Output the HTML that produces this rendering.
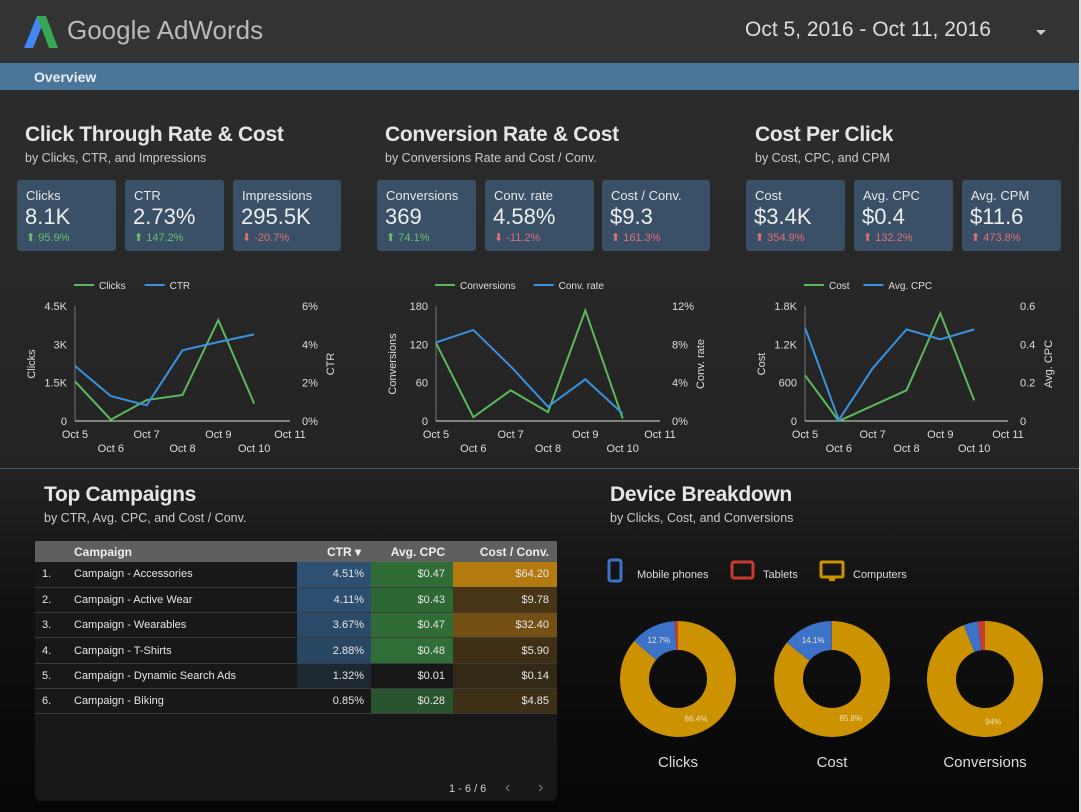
<!DOCTYPE html>
<html><head><meta charset="utf-8">
<style>
*{margin:0;padding:0;box-sizing:border-box}
body{width:1081px;height:812px;overflow:hidden;font-family:"Liberation Sans",sans-serif;color:#ddd;position:relative;
background:linear-gradient(#2f2f2f 0px,#2c2c2c 90px,#232323 470px,#111 600px,#060606 812px)}
.abs{position:absolute}
.hdr{left:0;top:0;width:1081px;height:63px;background:#333}
.nav{left:0;top:63px;width:1079px;height:27px;background:#4a7699}
.sec-title{font-size:21px;font-weight:bold;color:#e6e6e6;letter-spacing:-0.3px}
.sub{font-size:12.5px;color:#ccc}
.card{background:#3a5067;border-radius:3px;height:71px;top:180px}
.card .l{position:absolute;left:9px;top:8px;font-size:13px;color:#e6e6e6}
.card .v{position:absolute;left:8px;top:24px;font-size:22px;color:#eee}
.card .d{position:absolute;left:9px;top:51px;font-size:11px}
.up{color:#6cc070}.dn{color:#e0707a}
svg text{font-family:"Liberation Sans",sans-serif}
table{border-collapse:collapse;font-size:11px}
</style></head><body>
<div class="abs hdr"></div>
<svg class="abs" style="left:24px;top:14px" width="36" height="36">
<polygon points="0,34 13,2 22,2 9,34" fill="#4285f4"/><polygon points="13,2 22,2 34,34 25,34" fill="#34a853"/></svg>
<div class="abs" style="left:67px;top:15px;font-size:26px;color:#b9b9b9">Google AdWords</div>
<div class="abs" style="left:745px;top:18px;font-size:21px;color:#ddd">Oct 5, 2016 - Oct 11, 2016</div>
<div class="abs" style="left:1036px;top:30px;width:0;height:0;border-left:5px solid transparent;border-right:5px solid transparent;border-top:5px solid #ccc"></div>
<div class="abs nav"></div>
<div class="abs" style="left:34px;top:69px;font-size:14px;font-weight:bold;color:#e8eef4">Overview</div>
<div class="abs" style="left:0;top:468px;width:1081px;height:1px;background:#3d5a78"></div>
<div class="abs" style="right:0;top:0;width:2px;height:812px;background:#ddd"></div>

<div class="abs sec-title" style="left:25px;top:123px">Click Through Rate &amp; Cost</div>
<div class="abs sub" style="left:25px;top:151px">by Clicks, CTR, and Impressions</div>
<div class="abs sec-title" style="left:385px;top:123px">Conversion Rate &amp; Cost</div>
<div class="abs sub" style="left:385px;top:151px">by Conversions Rate and Cost / Conv.</div>
<div class="abs sec-title" style="left:755px;top:123px">Cost Per Click</div>
<div class="abs sub" style="left:755px;top:151px">by Cost, CPC, and CPM</div>

<div class="abs card" style="left:17px;width:99px"><div class="l">Clicks</div><div class="v">8.1K</div><div class="d up">⬆ 95.9%</div></div>
<div class="abs card" style="left:125px;width:99px"><div class="l">CTR</div><div class="v">2.73%</div><div class="d up">⬆ 147.2%</div></div>
<div class="abs card" style="left:233px;width:108px"><div class="l">Impressions</div><div class="v">295.5K</div><div class="d dn">⬇ -20.7%</div></div>
<div class="abs card" style="left:377px;width:99px"><div class="l">Conversions</div><div class="v">369</div><div class="d up">⬆ 74.1%</div></div>
<div class="abs card" style="left:485px;width:109px"><div class="l">Conv. rate</div><div class="v">4.58%</div><div class="d dn">⬇ -11.2%</div></div>
<div class="abs card" style="left:602px;width:108px"><div class="l">Cost / Conv.</div><div class="v">$9.3</div><div class="d dn">⬆ 161.3%</div></div>
<div class="abs card" style="left:746px;width:99px"><div class="l">Cost</div><div class="v">$3.4K</div><div class="d dn">⬆ 354.9%</div></div>
<div class="abs card" style="left:854px;width:99px"><div class="l">Avg. CPC</div><div class="v">$0.4</div><div class="d dn">⬆ 132.2%</div></div>
<div class="abs card" style="left:962px;width:99px"><div class="l">Avg. CPM</div><div class="v">$11.6</div><div class="d dn">⬆ 473.8%</div></div>

<svg id="lines" class="abs" style="left:0;top:0" width="1081" height="470"></svg>

<div class="abs sec-title" style="left:44px;top:483px">Top Campaigns</div>
<div class="abs sub" style="left:44px;top:511px">by CTR, Avg. CPC, and Cost / Conv.</div>
<div class="abs" style="left:35px;top:541px;width:522px;height:260px;background:#181818;border-radius:0 0 6px 6px">
<table id="tbl" style="width:522px"></table>
<div class="abs" style="left:414px;top:242px;font-size:11px;color:#ccc">1 - 6 / 6</div>
<div class="abs" style="left:470px;top:238px;font-size:16px;color:#777">‹</div>
<div class="abs" style="left:503px;top:238px;font-size:16px;color:#777">›</div>
</div>

<div class="abs sec-title" style="left:610px;top:483px">Device Breakdown</div>
<div class="abs sub" style="left:610px;top:511px">by Clicks, Cost, and Conversions</div>
<svg id="donuts" class="abs" style="left:0;top:540px" width="1081" height="272"></svg>

<script>
const NS='http://www.w3.org/2000/svg';
function mk(p,tag,at,txt){const e=document.createElementNS(NS,tag);for(const k in at)e.setAttribute(k,at[k]);if(txt!==undefined)e.textContent=txt;p.appendChild(e);return e;}
const days=['Oct 5','Oct 6','Oct 7','Oct 8','Oct 9','Oct 10','Oct 11'];
const clicks=[1550,50,820,1020,3950,680];
const ctr=[2.87,1.3,0.82,3.69,4.12,4.52];
const conversions=[122,6,48,14,173,4];
const convRate=[8.2,9.5,5.7,1.5,4.35,0.77];
const cost=[715,0,240,480,1685,323];
const avgCpc=[0.487,0.005,0.275,0.478,0.426,0.478];
const leftTicks1=['0','1.5K','3K','4.5K'], rightTicks1=['0%','2%','4%','6%'];
const leftTicks2=['0','60','120','180'], rightTicks2=['0%','4%','8%','12%'];
const leftTicks3=['0','600','1.2K','1.8K'], rightTicks3=['0','0.2','0.4','0.6'];
const charts=[
 {x0:75,x1:290,lmax:4500,rmax:6,L:clicks,R:ctr,lt:leftTicks1,rt:rightTicks1,ln:'Clicks',rn:'CTR',id:'ctr'},
 {x0:436,x1:660,lmax:180,rmax:12,L:conversions,R:convRate,lt:leftTicks2,rt:rightTicks2,ln:'Conversions',rn:'Conv. rate',id:'conv'},
 {x0:805,x1:1008,lmax:1800,rmax:0.6,L:cost,R:avgCpc,lt:leftTicks3,rt:rightTicks3,ln:'Cost',rn:'Avg. CPC',id:'cpc'}];
const svg=document.getElementById('lines');
charts.forEach(c=>{
 const y0=421,yt=306;
 const X=i=>c.x0+(c.x1-c.x0)*i/6;
 const YL=v=>y0-(y0-yt)*v/c.lmax, YR=v=>y0-(y0-yt)*v/c.rmax;
 const g=mk(svg,'g',{});
 
 
 mk(g,'line',{x1:c.x0,y1:yt,x2:c.x0,y2:y0,stroke:'#777','stroke-width':1});
 mk(g,'line',{x1:c.x0,y1:y0,x2:c.x1,y2:y0,stroke:'#ddd','stroke-width':1});
 c.lt.forEach((t,i)=>{const e=mk(g,'text',{x:c.x0-8,y:y0-(y0-yt)*i/3+4,'text-anchor':'end','font-size':11,fill:'#ddd'},t);});
 c.rt.forEach((t,i)=>{const e=mk(g,'text',{x:c.x1+12,y:y0-(y0-yt)*i/3+4,'font-size':11,fill:'#ddd'},t);});
 days.forEach((d,i)=>{const e=mk(g,'text',{x:X(i),y:i%2?452:438,'text-anchor':'middle','font-size':11,fill:'#ddd'},d);});
 const lt=mk(g,'text',{transform:`translate(${c.x0-40},364) rotate(-90)`,'text-anchor':'middle','font-size':11,fill:'#ddd'},c.ln);
 
 const rtt=mk(g,'text',{transform:`translate(${c.x1+44},364) rotate(-90)`,'text-anchor':'middle','font-size':11,fill:'#ddd'},c.rn);
 
 const pl=mk(g,'polyline',{points:c.L.map((v,i)=>X(i)+','+YL(v)).join(' '),fill:'none',stroke:'#5cb85c','stroke-width':2});
 
 const pr=mk(g,'polyline',{points:c.R.map((v,i)=>X(i)+','+YR(v)).join(' '),fill:'none',stroke:'#3a92e0','stroke-width':2});
 
 const lg=mk(g,'g',{});
 
 mk(lg,'line',{x1:c.x0-1,y1:285,x2:c.x0+19,y2:285,stroke:'#5cb85c','stroke-width':2});
 mk(lg,'text',{x:c.x0+24,y:289,'font-size':10,fill:'#ddd'},c.ln);
 const off=c.x0+24+c.ln.length*5.6+12;
 mk(lg,'line',{x1:off,y1:285,x2:off+20,y2:285,stroke:'#3a92e0','stroke-width':2});
 mk(lg,'text',{x:off+25,y:289,'font-size':10,fill:'#ddd'},c.rn);
});

const campaigns=['Campaign - Accessories','Campaign - Active Wear','Campaign - Wearables','Campaign - T-Shirts','Campaign - Dynamic Search Ads','Campaign - Biking'];
const ctrVals=[4.51,4.11,3.67,2.88,1.32,0.85];
const cpcVals=[0.47,0.43,0.47,0.48,0.01,0.28];
const costConv=[64.20,9.78,32.40,5.90,0.14,4.85];
const tbl=document.getElementById('tbl');
tbl.innerHTML='<tr style="background:#5f5f5f;height:21px;font-weight:bold;font-size:12px;color:#eee"><td style="width:39px"></td><td style="width:223px">Campaign</td><td style="width:74px;text-align:right;padding-right:10px">CTR ▾</td><td style="width:82px;text-align:right;padding-right:8px">Avg. CPC</td><td style="text-align:right;padding-right:8px">Cost / Conv.</td></tr>';
campaigns.forEach((n,i)=>{
 const a=Math.max(0.05,ctrVals[i]/4.51), b=cpcVals[i]/0.48, c=costConv[i]/64.2;
 const tr=document.createElement('tr');
 
 
 tr.style.cssText='height:25.3px;border-bottom:1px solid #3a3a3a;color:#e6e6e6';
 tr.innerHTML=`<td style="padding-left:7px">${i+1}.</td><td>${n}</td><td style="text-align:right;padding-right:7px;background:rgba(45,80,115,${i<4?0.5+0.5*a:(i==4?0.3:0)})">${ctrVals[i].toFixed(2)}%</td><td style="text-align:right;padding-right:8px;background:rgba(48,110,55,${b<0.1?0:0.3+0.7*b})">$${cpcVals[i].toFixed(2)}</td><td style="text-align:right;padding-right:8px;background:rgba(180,122,16,${0.18+0.82*c})">$${costConv[i].toFixed(2)}</td>`;
 tbl.appendChild(tr);
});

const deviceNames=['Computers','Mobile phones','Tablets'];
const deviceColors=['#cc9200','#3d72c9','#c83c30'];
const clicksShare=[86.4,12.7,0.9];
const costShare=[85.8,14.1,0.1];
const convShare=[94,4,2];
const dsvg=document.getElementById('donuts');
const legX=[607,730,820];
['Mobile phones','Tablets','Computers'].forEach((n,i)=>{
 const g=mk(dsvg,'g',{});
 
 const col=[deviceColors[1],deviceColors[2],deviceColors[0]][i];
 if(i==0)mk(g,'rect',{x:legX[0]+2,y:20,width:12,height:21,rx:2,fill:'none',stroke:col,'stroke-width':3});
 if(i==1)mk(g,'rect',{x:legX[1]+2,y:22,width:21,height:16,rx:2,fill:'none',stroke:col,'stroke-width':3});
 if(i==2){mk(g,'rect',{x:legX[2]+1,y:22,width:22,height:15,rx:1,fill:'none',stroke:col,'stroke-width':3});mk(g,'rect',{x:legX[2]+9,y:37,width:6,height:4,fill:col});}
 mk(g,'text',{x:[637,763,853][i],y:38,'font-size':11,fill:'#ddd'},n);
});
const donuts=[{cx:678,v:clicksShare,t:'Clicks',labels:['86.4%','12.7%','']},{cx:832,v:costShare,t:'Cost',labels:['85.8%','14.1%','']},{cx:985,v:convShare,t:'Conversions',labels:['94%','','']}];
const cy=139,R=58,r=29;
donuts.forEach(d=>{
 const g=mk(dsvg,'g',{});
 
 const tot=d.v.reduce((a,b)=>a+b,0);let a0=0;
 d.v.forEach((v,i)=>{
  const a1=a0+v/tot*Math.PI*2;
  const p=(a,rr)=>[d.cx+rr*Math.sin(a),cy-rr*Math.cos(a)];
  const large=a1-a0>Math.PI?1:0;
  const [x1,y1]=p(a0,R),[x2,y2]=p(a1,R),[x3,y3]=p(a1,r),[x4,y4]=p(a0,r);
  const s=mk(g,'path',{d:`M${x1},${y1}A${R},${R} 0 ${large} 1 ${x2},${y2}L${x3},${y3}A${r},${r} 0 ${large} 0 ${x4},${y4}Z`,fill:deviceColors[i]});
  
  
  if(d.labels[i]){const am=(a0+a1)/2;const [lx,ly]=p(am,(R+r)/2);mk(g,'text',{x:lx,y:ly+3,'text-anchor':'middle','font-size':8,fill:'#f0e0c0'},d.labels[i]);}
  a0=a1;
 });
 const tt=mk(g,'text',{x:d.cx,y:227,'text-anchor':'middle','font-size':15,fill:'#ddd'},d.t);
 
});
</script>
</body></html>
